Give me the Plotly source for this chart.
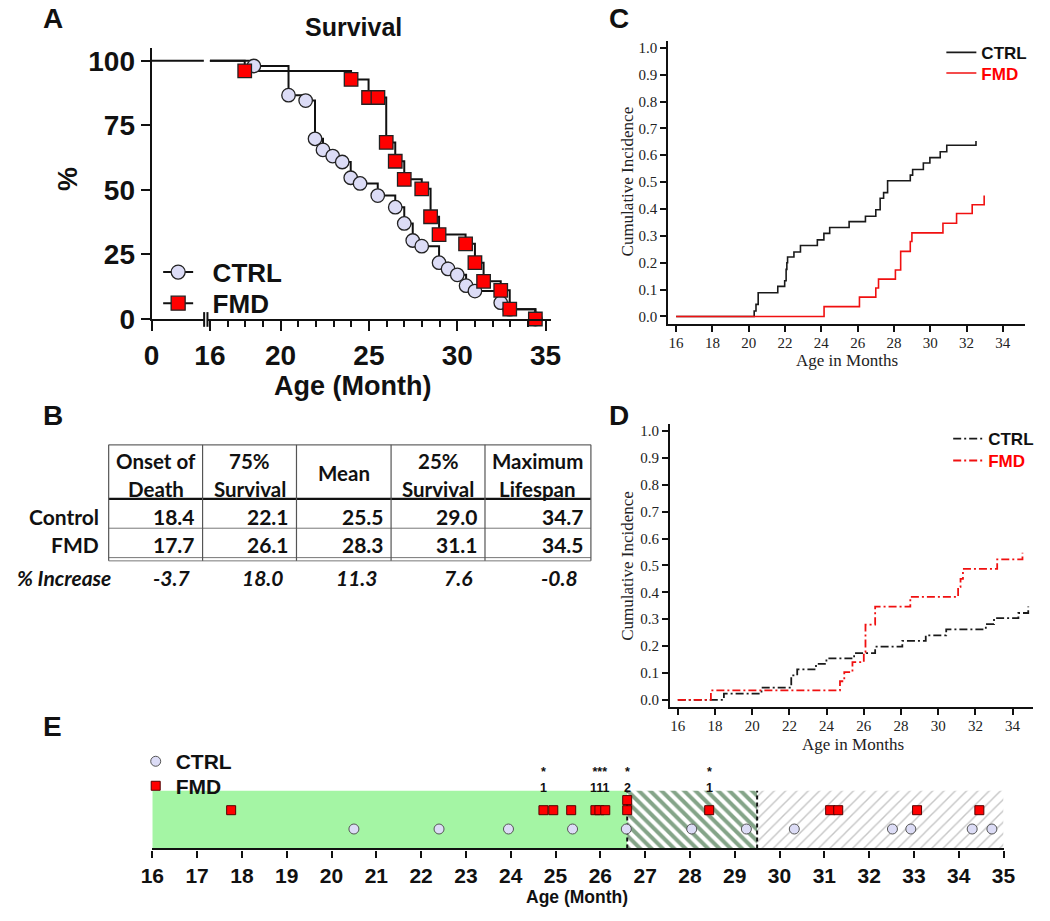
import plotly.graph_objects as go

W, H = 1050, 921
def fx(p): return p / W
def fy(p): return 1 - p / H

# ---------------- data ----------------
# Panel A: Kaplan-Meier survival (%)
a_ctrl_age = [18.49, 20.45, 21.42, 21.95, 22.4, 22.95, 23.49, 23.97, 24.5, 25.5, 26.49, 27.0, 27.48,
              27.99, 28.97, 29.48, 30.0, 30.5, 31.0, 32.46, 32.97, 34.42]
a_ctrl_pct = [98.0, 86.7, 84.6, 69.8, 65.5, 63.1, 60.8, 54.7, 52.5, 47.8, 43.3, 37.0, 30.4,
              28.2, 21.8, 19.4, 17.1, 12.9, 10.8, 6.3, 3.8, 0.0]
a_fmd_age = [17.97, 23.99, 24.98, 25.51, 25.98, 26.49, 27.0, 27.99, 28.49, 28.97, 30.47, 31.0,
             31.49, 32.46, 32.97, 34.42]
a_fmd_pct = [96.1, 92.8, 85.8, 85.8, 68.4, 61.1, 54.1, 50.4, 39.6, 32.7, 29.1, 21.8,
             14.6, 11.1, 3.8, 0.0]
a_yticks = [0, 25, 50, 75, 100]
a_xticks = [16, 20, 25, 30, 35]

# Panel B: table
b_cols = [["Onset of", "Death"], ["75%", "Survival"], ["Mean"], ["25%", "Survival"], ["Maximum", "Lifespan"]]
b_rows = ["Control", "FMD"]
b_control = [18.4, 22.1, 25.5, 29.0, 34.7]
b_fmd = [17.7, 26.1, 28.3, 31.1, 34.5]
b_increase = [-3.7, 18.0, 11.3, 7.6, -0.8]

# Panel C: cumulative incidence
c_ctrl_age = [16, 20.3, 20.4, 20.52, 21.6, 21.98, 22.06, 22.1, 22.14, 22.49, 22.85, 23.78, 24.14, 24.46,
              25.53, 26.43, 27.0, 27.24, 27.43, 27.65, 28.9, 29.03, 29.62, 29.98, 30.55, 30.91, 32.52]
c_ctrl_ci = [0, 0.02, 0.045, 0.088, 0.112, 0.133, 0.175, 0.2, 0.221, 0.24, 0.264, 0.285, 0.309, 0.331,
             0.353, 0.373, 0.397, 0.44, 0.461, 0.505, 0.526, 0.547, 0.571, 0.591, 0.613, 0.637, 0.653]
c_fmd_age = [16, 24.15, 26.1, 27.0, 27.15, 28.08, 28.37, 28.9, 28.99, 30.7, 31.45, 32.31, 32.97]
c_fmd_ci = [0, 0.0365, 0.072, 0.106, 0.139, 0.173, 0.242, 0.279, 0.311, 0.347, 0.383, 0.416, 0.45]

# Panel D: cumulative incidence
d_ctrl_age = [16, 18.48, 20.5, 22.1, 22.42, 23.43, 23.99, 25.48, 26.61, 28.07, 29.33, 30.43, 32.56,
              33.0, 34.31, 34.84]
d_ctrl_ci = [0, 0.023, 0.045, 0.091, 0.113, 0.134, 0.154, 0.174, 0.198, 0.219, 0.24, 0.262, 0.282,
             0.304, 0.323, 0.347]
d_fmd_age = [16, 17.78, 24.72, 24.95, 25.39, 26.0, 26.09, 26.61, 28.5, 31.07, 31.2, 31.33, 33.17, 34.53]
d_fmd_ci = [0, 0.035, 0.069, 0.103, 0.140, 0.177, 0.28, 0.347, 0.383, 0.42, 0.45, 0.487, 0.523, 0.547]
cd_xticks = list(range(16, 35, 2))
cd_yticks = [i / 10 for i in range(11)]

# Panel E: individual deaths
e_ctrl = [20.5, 22.4, 23.95, 25.38, 26.58, 28.04, 29.26, 30.33, 32.52, 32.93, 34.30, 34.74]
e_fmd = [17.76, 24.73, 24.95, 25.35, 25.89, 25.98, 26.11, 26.6, 26.6, 28.43, 31.13, 31.31, 33.07, 34.46]
e_flag_age = [24.73, 25.89, 25.98, 26.11, 26.6, 28.43]
e_flag_n = [1, 1, 1, 1, 2, 1]
e_phase = [16, 26.6, 29.5, 35]
e_xticks = list(range(16, 36))

# ---------------- styles ----------------
BLACK = "#111111"
RED = "#ff0000"
LAV = "#dcdcf6"
SANS = "Liberation Sans"
SERIF = "Liberation Serif"
TAB = "Lato"

fig = go.Figure()

# ---------- Panel A ----------
fig.add_trace(go.Scatter(x=[0, 16], y=[100, 100], mode="lines", line=dict(color=BLACK, width=2),
                         xaxis="x", yaxis="y", showlegend=False, hoverinfo="skip"))
for age, pct in [(a_ctrl_age, a_ctrl_pct), (a_fmd_age, a_fmd_pct)]:
    fig.add_trace(go.Scatter(x=[16] + age, y=[100] + pct, mode="lines", line=dict(color=BLACK, width=2, shape="hv"),
                             xaxis="x2", yaxis="y2", showlegend=False, hoverinfo="skip"))
for age, pct, sym, col in [(a_ctrl_age, a_ctrl_pct, "circle", LAV), (a_fmd_age, a_fmd_pct, "square", RED)]:
    fig.add_trace(go.Scatter(x=age, y=pct, mode="markers", cliponaxis=False,
                             marker=dict(symbol=sym, size=13.5, color=col, line=dict(color="#222222", width=1.3)),
                             xaxis="x2", yaxis="y2", showlegend=False))
for name, sym, col, lg in [("\u00a0\u00a0CTRL", "circle", LAV, "legend"), ("\u00a0\u00a0FMD", "square", RED, "legend2")]:
    fig.add_trace(go.Scatter(x=[None], y=[None], mode="lines+markers", name=name, legend=lg,
                             line=dict(color=BLACK, width=2),
                             marker=dict(symbol=sym, size=14, color=col, line=dict(color="#222222", width=1.3)),
                             xaxis="x2", yaxis="y2"))

# ---------- Panel C ----------
fig.add_trace(go.Scatter(x=c_ctrl_age, y=c_ctrl_ci, mode="lines", line=dict(color="#1a1a1a", width=1.6, shape="hv"),
                         xaxis="x3", yaxis="y3", name="CTRL", legend="legend3"))
fig.add_trace(go.Scatter(x=c_fmd_age, y=c_fmd_ci, mode="lines", line=dict(color="#f01010", width=1.6, shape="hv"),
                         xaxis="x3", yaxis="y3", name='<span style="color:#ff0000">FMD</span>', legend="legend4"))

# ---------- Panel D ----------
DASHDOT = "8px,3px,2px,3px"
fig.add_trace(go.Scatter(x=d_ctrl_age, y=d_ctrl_ci, mode="lines",
                         line=dict(color="#1a1a1a", width=1.8, shape="hv", dash=DASHDOT),
                         xaxis="x4", yaxis="y4", name="CTRL", legend="legend5"))
fig.add_trace(go.Scatter(x=d_fmd_age, y=d_fmd_ci, mode="lines",
                         line=dict(color="#f01010", width=1.8, shape="hv", dash=DASHDOT),
                         xaxis="x4", yaxis="y4", name='<span style="color:#ff0000">FMD</span>', legend="legend6"))

# ---------- Panel E ----------
def box(x0, x1):
    return [x0, x1, x1, x0, x0], [0, 0, 1, 1, 0]
bx, by = box(e_phase[0], e_phase[1])
fig.add_trace(go.Scatter(x=bx, y=by, mode="lines", fill="toself", fillcolor="#a4f5a4", line=dict(width=0),
                         xaxis="x5", yaxis="y5", showlegend=False, hoverinfo="skip"))
bx, by = box(e_phase[1], e_phase[2])
fig.add_trace(go.Scatter(x=bx, y=by, mode="lines", fill="toself", fillcolor="white",
                         fillpattern=dict(shape="\\", fgcolor="#0a4a12", bgcolor="white", size=8, solidity=0.5),
                         line=dict(width=0), xaxis="x5", yaxis="y5", showlegend=False, hoverinfo="skip"))
bx, by = box(e_phase[2], e_phase[3])
fig.add_trace(go.Scatter(x=bx, y=by, mode="lines", fill="toself", fillcolor="white",
                         fillpattern=dict(shape="/", fgcolor="#8e8e8e", bgcolor="white", size=8, solidity=0.18),
                         line=dict(width=0), xaxis="x5", yaxis="y5", showlegend=False, hoverinfo="skip"))
for xb in e_phase[1:3]:
    fig.add_trace(go.Scatter(x=[xb, xb], y=[0, 1], mode="lines", line=dict(color=BLACK, width=2, dash="4px,3px"),
                             xaxis="x5", yaxis="y5", showlegend=False, hoverinfo="skip"))

E_TOP, E_BOT = 804.3, 863.3
CTRL_ROW = (E_BOT - 843.5) / (E_BOT - E_TOP)
FMD_ROW = (E_BOT - 824.3) / (E_BOT - E_TOP)
STACK = 10.3 / (E_BOT - E_TOP)
fmd_y = []
seen = {}
for a in e_fmd:
    k = seen.get(a, 0)
    fmd_y.append(FMD_ROW + k * STACK)
    seen[a] = k + 1
fig.add_trace(go.Scatter(x=e_ctrl, y=[CTRL_ROW] * len(e_ctrl), mode="markers", name="CTRL", legend="legend7",
                         marker=dict(symbol="circle", size=10, color=LAV, line=dict(color="#555555", width=1)),
                         xaxis="x5", yaxis="y5", cliponaxis=False))
fig.add_trace(go.Scatter(x=e_fmd, y=fmd_y, mode="markers", name="FMD", legend="legend8",
                         marker=dict(symbol="square", size=9, color=RED, line=dict(color="#550000", width=1)),
                         xaxis="x5", yaxis="y5", cliponaxis=False))

# ---------------- axes ----------------
ax_black = dict(showgrid=False, zeroline=False, showline=True, linecolor=BLACK, ticks="outside", tickcolor=BLACK)
A_TOP100, A_ZERO = 60, 323.3
A_PPP = (A_ZERO - A_TOP100) / 100
A_Y_DOM = [fy(A_ZERO), fy(A_ZERO - 105 * A_PPP)]
A_PXM = 18.1
A_X16 = 201.7
A_SEG2 = 199.5
a_x2_left = 16 - (A_X16 - A_SEG2) / A_PXM
a_x2_right = a_x2_left + (551 - A_SEG2) / A_PXM
big = dict(family=SANS, size=28, color=BLACK, weight="bold")
layout_axes = dict(
    xaxis=dict(**ax_black, domain=[fx(142), fx(195.5)], range=[0, 3], anchor="y", linewidth=2,
               tickvals=[0], ticklen=10, tickwidth=2, tickfont=big),
    yaxis=dict(**ax_black, domain=A_Y_DOM, range=[0, 105], anchor="x", linewidth=2,
               tickvals=a_yticks, ticklen=9, tickwidth=2, tickfont=big),
    xaxis2=dict(**ax_black, domain=[fx(A_SEG2), fx(551)], range=[a_x2_left, a_x2_right], anchor="y2", linewidth=2,
                tickvals=a_xticks, ticklen=10, tickwidth=2, tickfont=big,
                minor=dict(tick0=16, dtick=1, ticks="outside", ticklen=6, tickwidth=2, tickcolor=BLACK, showgrid=False)),
    yaxis2=dict(domain=A_Y_DOM, range=[0, 105], anchor="x2", visible=False),
)
serif_tf = dict(family=SERIF, size=15, color="#222222")
# (axis top, axis line y, y of 0.0, y of 1.0, axis left, axis right, x of 16, x of 34)
cd_geo = {3: (40, 328.3, 320.7, 46.7, 671, 1036.7, 679.3, 1014),
          4: (430, 719.3, 711.7, 437.7, 672.7, 1045, 681, 1024)}
for i, (ytop, ybot, y0, y1, xl, xr, x16, x34) in cd_geo.items():
    pxm = (x34 - x16) / 18
    ppu = y0 - y1
    layout_axes[f"xaxis{i}"] = dict(**ax_black, domain=[fx(xl), fx(xr)],
                                    range=[16 - (x16 - xl) / pxm, 16 + (xr - x16) / pxm], anchor=f"y{i}",
                                    linewidth=1.6, tickvals=cd_xticks, ticklen=6, tickwidth=2, tickfont=serif_tf,
                                    ticklabelstandoff=-2)
    layout_axes[f"yaxis{i}"] = dict(**ax_black, domain=[fy(ybot), fy(ytop)],
                                    range=[-(ybot - y0) / ppu, (y0 - ytop) / ppu], anchor=f"x{i}",
                                    linewidth=1.6, tickvals=cd_yticks, ticktext=[f"{v:.1f}" for v in cd_yticks],
                                    ticklen=6, tickwidth=2, tickfont=serif_tf)
layout_axes["xaxis5"] = dict(**ax_black, domain=[fx(142.7), fx(1014.7)], range=[16, 35], anchor="y5", linewidth=2.2,
                             tickvals=e_xticks, ticklen=7, tickwidth=2, layer="above traces", ticklabelstandoff=0,
                             tickfont=dict(family=SANS, size=21, color=BLACK, weight="bold"))
layout_axes["yaxis5"] = dict(domain=[fy(E_BOT), fy(E_TOP)], range=[0, 1], anchor="x5", visible=False)

# ---------------- annotations ----------------
ann = []
def text(x, y, t, size, xanchor="center", family=SANS, weight="bold", color=BLACK, angle=0, style="normal"):
    ann.append(dict(x=fx(x), y=fy(y), xref="paper", yref="paper", text=t, showarrow=False, xanchor=xanchor,
                    yanchor="middle", textangle=angle,
                    font=dict(family=family, size=size, weight=weight, color=color, style=style)))

# panel letters
for lbl, x, y in [("A", 40.5, 17), ("B", 40.7, 421.7), ("C", 621, 17), ("D", 621, 421.7), ("E", 40, 739)]:
    text(x, y, lbl, 28)
# A titles
text(348.7, 25, "Survival", 25)
text(56.8, 180, "%", 27, angle=-90)
text(348, 392, "Age (Month)", 27)
# C/D titles
text(629, 183, "Cumulative Incidence", 17, family=SERIF, weight="normal", color="#222222", angle=-90)
text(854, 366, "Age in Months", 17, family=SERIF, weight="normal", color="#222222")
text(630, 575, "Cumulative Incidence", 17, family=SERIF, weight="normal", color="#222222", angle=-90)
text(860, 757, "Age in Months", 17, family=SERIF, weight="normal", color="#222222")
# E title + grouped flags (stars over counts)
text(578, 912.5, "Age (Month)", 17.5)
groups = []
for a, n in zip(e_flag_age, e_flag_n):
    if groups and a - groups[-1][-1][0] < 0.3 and n == groups[-1][-1][1]:
        groups[-1].append((a, n))
    else:
        groups.append([(a, n)])
for g in groups:
    xs = [a for a, _ in g]
    ann.append(dict(x=sum(xs) / len(xs), y=fy(793.5), xref="x5", yref="paper", showarrow=False, yanchor="middle",
                    text="*" * len(g) + "<br>" + "".join(str(n) for _, n in g),
                    font=dict(family=SANS, size=12.5, weight="bold", color=BLACK)))

# ---------------- table B ----------------
shapes = []
col_x = [98, 194.2, 290.4, 387.3, 483.5, 592]
t_top, t_head, t_ctrl, t_fmd1, t_fmd2 = 451.7, 506.7, 536.7, 566.7, 570
def hline(y, x0, x1, w=1, c="#444444"):
    shapes.append(dict(type="line", xref="paper", yref="paper", x0=fx(x0), x1=fx(x1), y0=fy(y), y1=fy(y),
                       line=dict(color=c, width=w)))
hline(t_top, col_x[0], col_x[-1], 1.2, "#666666")
hline(t_head, col_x[0], col_x[-1], 2.2, "#111111")
hline(t_ctrl, col_x[0], col_x[-1], 1, "#777777")
hline(t_fmd1, col_x[0], col_x[-1], 1, "#777777")
hline(t_fmd2, col_x[0], col_x[-1], 1, "#777777")
for xc in col_x:
    shapes.append(dict(type="line", xref="paper", yref="paper", x0=fx(xc), x1=fx(xc), y0=fy(t_top), y1=fy(t_fmd2),
                       line=dict(color="#555555", width=1.2)))
for j, hdr in enumerate(b_cols):
    cx = (col_x[j] + col_x[j + 1]) / 2
    if len(hdr) == 2:
        text(cx, t_top + 16.6, hdr[0], 20.5, family=TAB)
        text(cx, t_top + 45, hdr[1], 20.5, family=TAB)
    else:
        text(cx, t_top + 28.5, hdr[0], 20.5, family=TAB)
y_ctrl = t_head + 18.3
y_fmd = t_ctrl + 16.6
y_inc = t_fmd2 + 16.7
text(90.6, y_ctrl, b_rows[0], 21, xanchor="right", family=TAB)
text(90.6, y_fmd, b_rows[1], 21, xanchor="right", family=TAB)
text(102, y_inc, "% Increase", 21, xanchor="right", family=TAB, style="italic")
for j in range(5):
    xr = col_x[j + 1]
    text(xr - 5.5, y_ctrl, f"{b_control[j]:.1f}", 21, xanchor="right", family=TAB)
    text(xr - 5.5, y_fmd, f"{b_fmd[j]:.1f}", 21, xanchor="right", family=TAB)
    text(xr - 11, y_inc, f"{b_increase[j]:.1f}", 21, xanchor="right", family=TAB, style="italic")

# axis break marks for panel A
for xb in [195.8, 199.2]:
    shapes.append(dict(type="line", xref="paper", yref="paper", x0=fx(xb), x1=fx(xb), y0=fy(A_ZERO - 7),
                       y1=fy(A_ZERO + 8), line=dict(color=BLACK, width=2)))

leg_common = dict(xanchor="left", yanchor="top", bgcolor="rgba(0,0,0,0)", borderwidth=0, tracegroupgap=0)
def leg(x0, yc, size):
    h = size * 1.3 + 3
    return dict(**leg_common, x=fx(x0), y=fy(yc - 5 - h / 2),
                font=dict(family=SANS, size=size, weight="bold", color=BLACK))

fig.update_layout(
    width=W, height=H, margin=dict(l=0, r=0, t=0, b=0), autosize=False,
    paper_bgcolor="white", plot_bgcolor="white",
    font=dict(family=SANS, color=BLACK),
    annotations=ann, shapes=shapes,
    legend=leg(148.7, 275, 26), legend2=leg(148.7, 306.7, 26),
    legend3=leg(951, 51, 17), legend4=leg(951, 72, 17),
    legend5=leg(958, 445, 17), legend6=leg(958, 467.3, 17),
    legend7=leg(125.7, 774, 21), legend8=leg(125.7, 799, 21),
    **layout_axes,
)

fig.write_html("out.html", config={"displayModeBar": False},
               post_script="document.body.style.margin='0px';document.body.style.overflow='hidden';")
